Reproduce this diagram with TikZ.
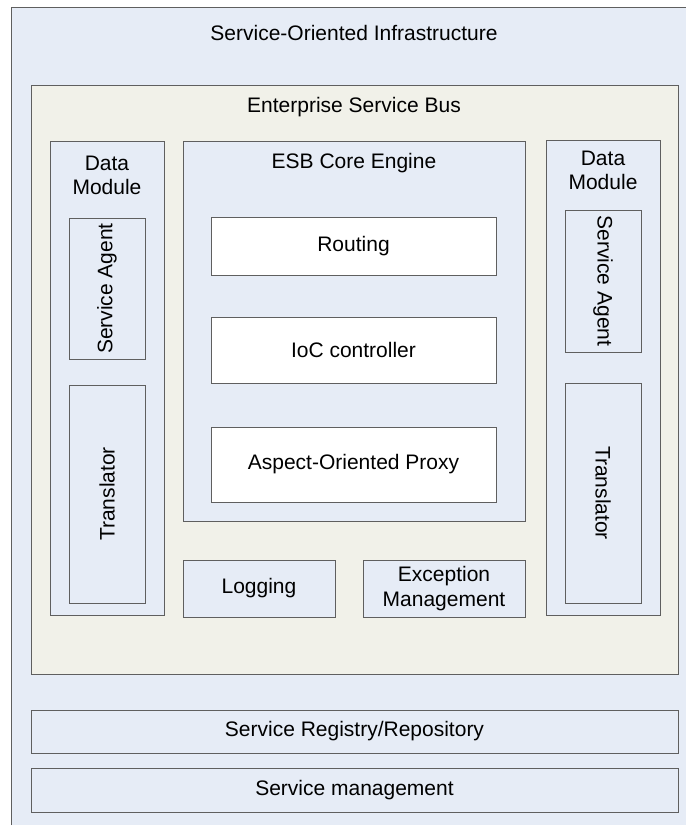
\documentclass[tikz,border=0pt]{standalone}
\usepackage{fontspec}
\setmainfont{Liberation Sans}
\definecolor{infrablue}{RGB}{230,236,246}
\definecolor{busbeige}{RGB}{241,241,233}
\definecolor{edgegray}{RGB}{95,95,95}

\tikzset{
	box/.style={draw=edgegray, line width=0.9pt, inner sep=0pt, align=center,
		font=\fontsize{21}{25}\selectfont},
	bluebox/.style={box, fill=infrablue},
	whitebox/.style={box, fill=white},
	heading/.style={inner sep=0pt, align=center, font=\fontsize{21}{24}\selectfont}
}

\begin{document}
\begin{tikzpicture}[x=1pt,y=-1pt]
		\useasboundingbox (0,0) rectangle (685,829);
		% outer layer
		\node[fill=infrablue, inner sep=0pt, minimum width=680pt, minimum height=817pt] (soi) at (352,416.5) {};
		\draw[edgegray, line width=0.9pt] (soi.south west) -- (soi.north west) -- (soi.north east);
		\node[heading] (soit) at (354,33) {Service-Oriented Infrastructure};
		% bus
		\node[box, fill=busbeige, minimum width=647pt, minimum height=589pt] (esb) at (354.5,379.5) {};
		\node[heading] (esbt) at (354,107) {Enterprise Service Bus};
		% left data module
		\node[bluebox, minimum width=114pt, minimum height=474pt] (dmL) at (107,378) {};
		\node[heading] (dmLt) at (107,175) {Data\\Module};
		\node[bluebox, rotate=90, minimum width=141pt, minimum height=76pt] (saL) at (107,288.5) {Service Agent};
		\node[bluebox, rotate=90, minimum width=218pt, minimum height=76pt] (trL) at (107,494) {Translator};
		% core engine
		\node[bluebox, minimum width=342pt, minimum height=380pt] (core) at (354,331) {};
		\node[heading] (coret) at (354,163) {ESB Core Engine};
		\node[whitebox, minimum width=285pt, minimum height=58pt] (routing) at (353.5,246) {Routing};
		\node[whitebox, minimum width=285pt, minimum height=66pt] (ioc) at (353.5,350) {IoC controller};
		\node[whitebox, minimum width=285pt, minimum height=75pt] (aop) at (353.5,464.5) {Aspect-Oriented Proxy};
		\node[bluebox, minimum width=152pt, minimum height=57pt] (logging) at (259,588.5) {Logging};
		\node[bluebox, minimum width=162pt, minimum height=57pt] (excmgmt) at (444,588.5) {Exception\\Management};
		% right data module
		\node[bluebox, minimum width=114pt, minimum height=475pt] (dmR) at (603,377.5) {};
		\node[heading] (dmRt) at (603,170) {Data\\Module};
		\node[bluebox, rotate=-90, minimum width=142pt, minimum height=76pt] (saR) at (603,281) {Service Agent};
		\node[bluebox, rotate=-90, minimum width=220pt, minimum height=76pt] (trR) at (603,493) {Translator};
		% bottom layers
		\node[bluebox, minimum width=647pt, minimum height=43pt] (registry) at (354.5,731.5) {Service Registry/Repository};
		\node[bluebox, minimum width=647pt, minimum height=44pt] (svcmgmt) at (354.5,790) {Service management};
	\end{tikzpicture}
\end{document}
